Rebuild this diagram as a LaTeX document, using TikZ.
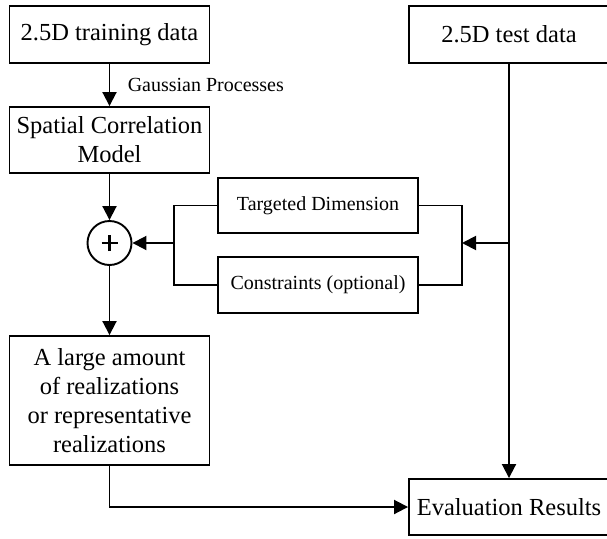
\documentclass[tikz,border=0pt]{standalone}
\usepackage{fontspec}
\setmainfont{Liberation Serif}
\usetikzlibrary{arrows.meta}
\begin{document}
\begin{tikzpicture}[x=1pt,y=-1pt,
  box/.style={draw,line width=1.9pt,rectangle,minimum width=200pt,inner sep=0pt,align=center,
    font=\fontsize{24.5}{29}\selectfont},
  sbox/.style={draw,line width=1.9pt,rectangle,minimum width=200pt,inner sep=0pt,align=center,
    font=\fontsize{20}{23}\selectfont},
  conn/.style={line width=1.9pt},
  arr/.style={line width=1.9pt,-{Triangle[length=14pt,width=14pt]}},
  sumnode/.style={draw,circle,line width=1.9pt,minimum size=44pt,inner sep=0pt,
    path picture={\draw[line width=2.6pt] ([xshift=-8pt]path picture bounding box.center) -- ([xshift=8pt]path picture bounding box.center);
                  \draw[line width=2.6pt] ([yshift=-8pt]path picture bounding box.center) -- ([yshift=8pt]path picture bounding box.center);}}
]
\clip (0,0) rectangle (607,538);
\fill[white] (0,0) rectangle (607,538);

\node[box,minimum height=57pt] (train) at (109.5,34.5) {2.5D training data};
\node[box,minimum height=66pt] (scm) at (109.5,140) {Spatial Correlation\\Model};
\node[sumnode] (plus) at (109.5,243) {};
\node[box,minimum height=129pt] (real) at (109.5,400.5) {A large amount\\of realizations\\or representative\\realizations};
\node[sbox,minimum height=55pt] (td) at (318,205.5) {Targeted Dimension};
\node[sbox,minimum height=56pt] (cons) at (318,285) {Constraints (optional)};
\node[box,minimum height=57pt] (test) at (509,34.5) {2.5D test data};
\node[box,minimum height=56pt] (eval) at (509,507) {Evaluation Results};

\coordinate (j1) at (509,243);
\coordinate (rb) at (462,243);
\coordinate (lb) at (174,243);

\draw[arr] (train) -- node[right=14pt,font=\fontsize{20}{23}\selectfont] (gp) {Gaussian Processes} (scm);
\draw[arr] (scm) -- (plus);
\draw[arr] (plus) -- (real);
\draw[arr] (real.south) |- (eval.west);
\draw[arr] (test) -- (eval);
\draw[arr] (j1) -- (rb);
\draw[conn] (td.east) -| (rb) |- (cons.east);
\draw[conn] (td.west) -| (lb) |- (cons.west);
\draw[arr] (lb) -- (plus);
\end{tikzpicture}
\end{document}
